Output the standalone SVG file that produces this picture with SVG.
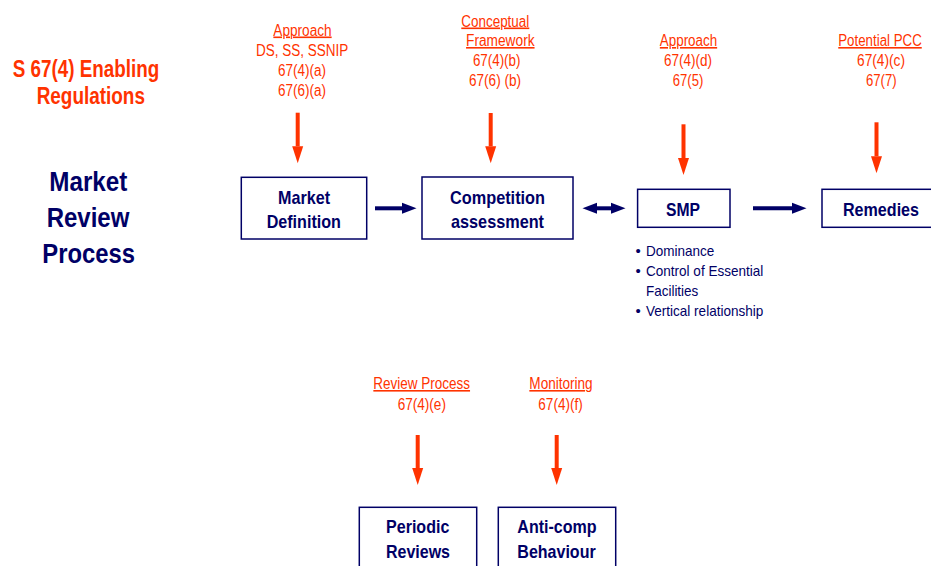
<svg xmlns="http://www.w3.org/2000/svg" width="931" height="566" viewBox="0 0 931 566">
<style>
text{font-family:"Liberation Sans",Arial,sans-serif}
.lbl{fill:#FF3300;font-size:16px;text-anchor:middle}
.ul{text-decoration:underline}
.ttl{fill:#FF3300;font-size:23px;font-weight:bold;text-anchor:middle}
.mrp{fill:#000066;font-size:27px;font-weight:bold;text-anchor:middle}
.box{fill:#FFFFFF;stroke:#000066;stroke-width:1.5}
.bt{fill:#000066;font-size:19px;font-weight:bold;text-anchor:middle}
.bul{fill:#000066;font-size:15px}
.oarr{stroke:#FF3300;stroke-width:4;fill:none}
.narr{stroke:#000066;stroke-width:4;fill:none}
</style>
<defs>
<marker id="ao" markerUnits="userSpaceOnUse" markerWidth="18" markerHeight="12" refX="0" refY="6" orient="auto"><path d="M0,0.5 L17,6 L0,11.5 z" fill="#FF3300"/></marker>
<marker id="an" markerUnits="userSpaceOnUse" markerWidth="16" markerHeight="12" refX="0" refY="6" orient="auto-start-reverse"><path d="M0,0.5 L14.5,6 L0,11.5 z" fill="#000066"/></marker>
</defs>
<rect width="931" height="566" fill="#FFFFFF"/>

<g id="title">
<text class="ttl" x="86" y="77" textLength="146.6" lengthAdjust="spacingAndGlyphs">S 67(4) Enabling</text>
<text class="ttl" x="90.8" y="104" textLength="108.3" lengthAdjust="spacingAndGlyphs">Regulations</text>
<text class="mrp" x="88.3" y="190.7" textLength="78" lengthAdjust="spacingAndGlyphs">Market</text>
<text class="mrp" x="88" y="227" textLength="82.7" lengthAdjust="spacingAndGlyphs">Review</text>
<text class="mrp" x="88.7" y="263.3" textLength="92.7" lengthAdjust="spacingAndGlyphs">Process</text>
</g>

<g id="label-a">
<text class="lbl ul" x="302.5" y="35.5" textLength="58.3" lengthAdjust="spacingAndGlyphs">Approach</text>
<text class="lbl" x="302.2" y="56" textLength="92.3" lengthAdjust="spacingAndGlyphs">DS, SS, SSNIP</text>
<text class="lbl" x="302" y="76" textLength="48" lengthAdjust="spacingAndGlyphs">67(4)(a)</text>
<text class="lbl" x="302" y="96" textLength="48" lengthAdjust="spacingAndGlyphs">67(6)(a)</text>
</g>
<g id="label-b">
<text class="lbl ul" x="495.3" y="26.5" textLength="68" lengthAdjust="spacingAndGlyphs">Conceptual</text>
<text class="lbl ul" x="500.3" y="46" textLength="68.5" lengthAdjust="spacingAndGlyphs">Framework</text>
<text class="lbl" x="496.7" y="66" textLength="47.5" lengthAdjust="spacingAndGlyphs">67(4)(b)</text>
<text class="lbl" x="495" y="86" textLength="52" lengthAdjust="spacingAndGlyphs">67(6) (b)</text>
</g>
<g id="label-d">
<text class="lbl ul" x="688.5" y="46" textLength="57.3" lengthAdjust="spacingAndGlyphs">Approach</text>
<text class="lbl" x="688" y="66" textLength="48" lengthAdjust="spacingAndGlyphs">67(4)(d)</text>
<text class="lbl" x="688" y="86" textLength="30.5" lengthAdjust="spacingAndGlyphs">67(5)</text>
</g>
<g id="label-c">
<text class="lbl ul" x="880" y="46" textLength="83.5" lengthAdjust="spacingAndGlyphs">Potential PCC</text>
<text class="lbl" x="881" y="66" textLength="48" lengthAdjust="spacingAndGlyphs">67(4)(c)</text>
<text class="lbl" x="881.3" y="86" textLength="30.7" lengthAdjust="spacingAndGlyphs">67(7)</text>
</g>
<g id="label-e">
<text class="lbl ul" x="421.7" y="389" textLength="96.7" lengthAdjust="spacingAndGlyphs">Review Process</text>
<text class="lbl" x="421.8" y="410" textLength="48.3" lengthAdjust="spacingAndGlyphs">67(4)(e)</text>
</g>
<g id="label-f">
<text class="lbl ul" x="561" y="389" textLength="63.3" lengthAdjust="spacingAndGlyphs">Monitoring</text>
<text class="lbl" x="560.5" y="410" textLength="44.3" lengthAdjust="spacingAndGlyphs">67(4)(f)</text>
</g>

<g id="market-definition">
<rect class="box" x="241.3" y="177.3" width="125.4" height="61.7"/>
<text class="bt" x="304" y="203.5" textLength="52" lengthAdjust="spacingAndGlyphs">Market</text>
<text class="bt" x="303.8" y="227.5" textLength="74.3" lengthAdjust="spacingAndGlyphs">Definition</text>
</g>
<g id="competition-assessment">
<rect class="box" x="422" y="177" width="151" height="62"/>
<text class="bt" x="497.5" y="203.5" textLength="95" lengthAdjust="spacingAndGlyphs">Competition</text>
<text class="bt" x="497.5" y="227.5" textLength="93" lengthAdjust="spacingAndGlyphs">assessment</text>
</g>
<g id="smp">
<rect class="box" x="637.6" y="189.3" width="92.4" height="38"/>
<text class="bt" x="683" y="216" textLength="34" lengthAdjust="spacingAndGlyphs">SMP</text>
</g>
<g id="remedies">
<rect class="box" x="822" y="189.3" width="112" height="38"/>
<text class="bt" x="881" y="216" textLength="76" lengthAdjust="spacingAndGlyphs">Remedies</text>
</g>
<g id="smp-notes">
<text class="bul" x="635.5" y="256">•</text>
<text class="bul" x="646" y="256" textLength="68.3" lengthAdjust="spacingAndGlyphs">Dominance</text>
<text class="bul" x="635.5" y="276">•</text>
<text class="bul" x="646" y="276" textLength="117.3" lengthAdjust="spacingAndGlyphs">Control of Essential</text>
<text class="bul" x="646" y="296" textLength="52.3" lengthAdjust="spacingAndGlyphs">Facilities</text>
<text class="bul" x="635.5" y="316">•</text>
<text class="bul" x="646" y="316" textLength="117.3" lengthAdjust="spacingAndGlyphs">Vertical relationship</text>
</g>
<g id="periodic-reviews">
<rect class="box" x="359.3" y="507.3" width="117.4" height="70"/>
<text class="bt" x="417.7" y="533.3" textLength="63.3" lengthAdjust="spacingAndGlyphs">Periodic</text>
<text class="bt" x="418" y="558.3" textLength="64" lengthAdjust="spacingAndGlyphs">Reviews</text>
</g>
<g id="anti-comp-behaviour">
<rect class="box" x="498.3" y="507.3" width="117.4" height="70"/>
<text class="bt" x="557" y="533.3" textLength="79.3" lengthAdjust="spacingAndGlyphs">Anti-comp</text>
<text class="bt" x="556.5" y="558.3" textLength="78.3" lengthAdjust="spacingAndGlyphs">Behaviour</text>
</g>

<g id="connectors">
<line class="oarr" x1="297.7" y1="112.7" x2="297.7" y2="146.3" marker-end="url(#ao)"/>
<line class="oarr" x1="490.7" y1="113" x2="490.7" y2="146.3" marker-end="url(#ao)"/>
<line class="oarr" x1="683.5" y1="124.3" x2="683.5" y2="158" marker-end="url(#ao)"/>
<line class="oarr" x1="876.5" y1="122.3" x2="876.5" y2="156.3" marker-end="url(#ao)"/>
<line class="oarr" x1="417.7" y1="435" x2="417.7" y2="468" marker-end="url(#ao)"/>
<line class="oarr" x1="556.7" y1="435" x2="556.7" y2="468" marker-end="url(#ao)"/>
<line class="narr" x1="375" y1="208.3" x2="402" y2="208.3" marker-end="url(#an)"/>
<line class="narr" x1="597" y1="208.3" x2="611" y2="208.3" marker-start="url(#an)" marker-end="url(#an)"/>
<line class="narr" x1="753" y1="208.3" x2="792" y2="208.3" marker-end="url(#an)"/>
</g>
</svg>
